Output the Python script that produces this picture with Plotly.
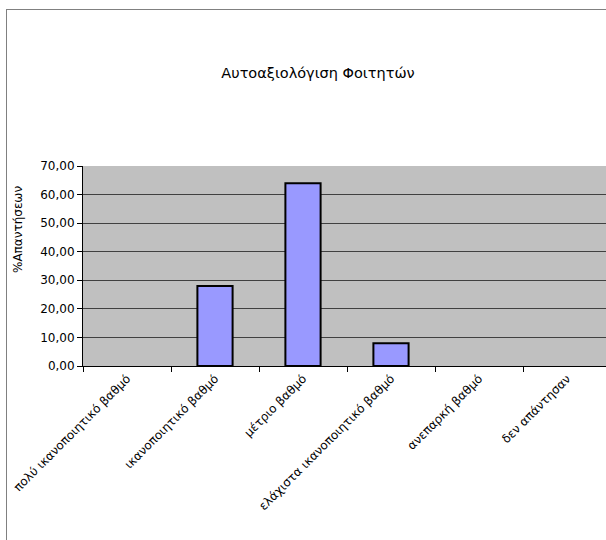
import plotly.graph_objects as go

# Αυτοαξιολόγηση φοιτητών: ποσοστό απαντήσεων ανά κατηγορία
categories = [
    "πολύ ικανοποιητικό βαθμό",
    "ικανοποιητικό βαθμό",
    "μέτριο βαθμό",
    "ελάχιστα ικανοποιητικό βαθμό",
    "ανεπαρκή βαθμό",
    "δεν απάντησαν",
]
percentages = [0, 28, 64, 8, 0, 0]
y_ticks = [0, 10, 20, 30, 40, 50, 60, 70]

W, H = 606, 540
L, R, T, B = 83, 0, 166, 174
plot_w = W - L - R
plot_h = H - T - B
cat_px = 88.0  # width of one category slot in pixels


def px_x(px):
    return (px - L) / plot_w


def px_y(py):
    return (H - B - py) / plot_h


# empty categories get no outline so nothing is drawn for them
outline_widths = [2 if v > 0 else 0 for v in percentages]

fig = go.Figure(
    go.Bar(
        x=categories,
        y=percentages,
        marker=dict(color="#9999ff", line=dict(color="black", width=outline_widths)),
        width=0.4,
        hoverinfo="x+y",
    )
)

font = "DejaVu Sans, Verdana, sans-serif"

fig.update_layout(
    width=W,
    height=H,
    margin=dict(l=L, r=R, t=T, b=B, pad=0),
    paper_bgcolor="white",
    plot_bgcolor="#c0c0c0",
    separators=",.",
    showlegend=False,
    font=dict(family=font, size=12, color="black"),
    title=dict(
        text="Αυτοαξιολόγιση Φοιτητών",
        x=318 / W,
        xanchor="center",
        y=1 - 73 / H,
        yanchor="middle",
        font=dict(family=font, size=14.5, color="black"),
    ),
    xaxis=dict(
        type="category",
        range=[-0.5, -0.5 + plot_w / cat_px],
        tickangle=-45,
        ticks="outside",
        tickson="boundaries",
        ticklen=5,
        tickcolor="black",
        showgrid=False,
        showline=True,
        linecolor="black",
        linewidth=1,
        tickfont=dict(family=font, size=12, color="black"),
        fixedrange=True,
    ),
    yaxis=dict(
        range=[0, 70],
        tickvals=y_ticks,
        tickformat=".2f",
        ticks="outside",
        ticklen=5,
        tickcolor="black",
        showgrid=True,
        gridcolor="#404040",
        gridwidth=1,
        showline=True,
        linecolor="black",
        linewidth=1,
        zeroline=False,
        tickfont=dict(family=font, size=12, color="black"),
        fixedrange=True,
    ),
    annotations=[
        dict(
            text="%Απαντήσεων",
            textangle=-90,
            xref="paper",
            yref="paper",
            x=px_x(18),
            y=px_y(230),
            xanchor="center",
            yanchor="middle",
            showarrow=False,
            font=dict(family=font, size=12, color="black"),
        )
    ],
    shapes=[
        # outer chart frame (top and left edges)
        dict(type="line", xref="paper", yref="paper",
             x0=px_x(6), x1=px_x(W), y0=px_y(9.5), y1=px_y(9.5),
             line=dict(color="#808080", width=1)),
        dict(type="line", xref="paper", yref="paper",
             x0=px_x(6.5), x1=px_x(6.5), y0=px_y(9), y1=px_y(H),
             line=dict(color="#808080", width=1)),
    ],
)

fig.write_html("out.html")
